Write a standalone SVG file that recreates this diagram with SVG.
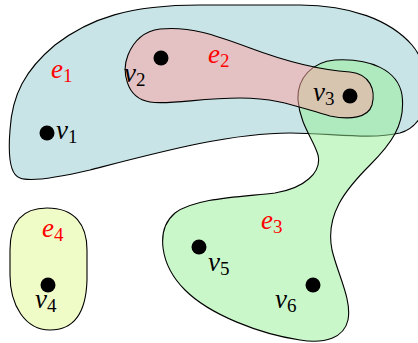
<svg xmlns="http://www.w3.org/2000/svg" width="418" height="343" viewBox="0 0 418 343">
<style>
.edge{stroke:#000;stroke-width:1.1}
.dot{fill:#000}
.lbl{font-family:"Liberation Serif","Times New Roman",serif;font-style:italic;font-size:27px}
.sub{font-style:normal;font-size:19px}
.vl{fill:#000}
.el{fill:#ff0000}
</style>
<g id="e1">
<path class="edge" fill="#c8e4e6" d="M 20,178 C 10,175 8,155 10,130 C 12,95 25,70 55,45 C 90,18 130,5 200,5 L 300,5 C 350,5 390,20 412,45 C 432,68 436,122 400,133 C 370,140 330,133 290,133 C 230,133 160,152 90,170 C 60,177 30,182 20,178 Z"/>
</g>
<g id="e3">
<path class="edge" fill="rgb(150,240,150)" fill-opacity="0.5" d="M 335,60 C 370,58 398,70 402,95 C 406,125 390,145 370,165 C 345,190 325,215 332,250 C 338,275 352,300 348,320 C 344,338 325,344 300,340 C 260,334 210,315 185,290 C 160,265 155,230 175,213 C 195,198 240,197 275,193 C 305,188 322,172 318,155 C 314,140 300,125 298,100 C 297,78 312,62 335,60 Z"/>
</g>
<g id="e2">
<path class="edge" fill="rgb(255,160,160)" fill-opacity="0.5" d="M 160,29 C 190,26 215,35 250,48 C 290,63 320,70 350,72 C 370,74 376,90 372,105 C 368,118 350,120 330,116 C 300,108 280,98 240,98 C 200,98 170,105 150,102 C 125,98 122,70 128,55 C 134,40 145,31 160,29 Z"/>
</g>
<g id="e4">
<path class="edge" fill="#f0fcc8" d="M 47,208 C 75,208 87,225 87,250 L 87,280 C 86,315 72,330 50,330 C 25,330 10,305 10,275 L 10,250 C 10,225 20,208 47,208 Z"/>
</g>
<g id="edge-labels" class="lbl el">
<text x="51" y="78">e<tspan class="sub" dy="4">1</tspan></text>
<text x="208" y="63">e<tspan class="sub" dy="4">2</tspan></text>
<text x="261" y="229">e<tspan class="sub" dy="4">3</tspan></text>
<text x="42" y="237">e<tspan class="sub" dy="4">4</tspan></text>
</g>
<g id="v1"><circle class="dot" cx="47" cy="133" r="7.5"/><text class="lbl vl" x="56" y="139">v<tspan class="sub" dy="4">1</tspan></text></g>
<g id="v2"><circle class="dot" cx="161" cy="58" r="7.5"/><text class="lbl vl" x="124" y="82">v<tspan class="sub" dy="4">2</tspan></text></g>
<g id="v3"><circle class="dot" cx="350" cy="96" r="7.5"/><text class="lbl vl" x="313" y="101">v<tspan class="sub" dy="4">3</tspan></text></g>
<g id="v4"><circle class="dot" cx="48" cy="285" r="7.5"/><text class="lbl vl" x="35" y="308">v<tspan class="sub" dy="4">4</tspan></text></g>
<g id="v5"><circle class="dot" cx="199" cy="247" r="7.5"/><text class="lbl vl" x="208" y="271">v<tspan class="sub" dy="4">5</tspan></text></g>
<g id="v6"><circle class="dot" cx="313" cy="285" r="7.5"/><text class="lbl vl" x="275" y="308">v<tspan class="sub" dy="4">6</tspan></text></g>
</svg>
